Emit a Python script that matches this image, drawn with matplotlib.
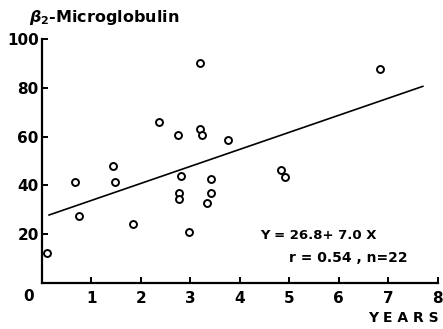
import numpy as np
import matplotlib
matplotlib.use("Agg")
import matplotlib.pyplot as plt

# years vs beta2-microglobulin
years = [0.10, 0.67, 0.76, 1.45, 1.48, 1.84, 2.38, 2.76, 2.78, 2.78, 2.81,
         2.98, 3.20, 3.20, 3.24, 3.35, 3.42, 3.43, 3.76, 4.83, 4.92, 6.83]
b2m = [12.1, 41.4, 27.6, 48.1, 41.4, 24.1, 65.9, 60.6, 37.0, 34.5, 43.7,
       21.0, 90.4, 63.0, 60.7, 32.9, 37.0, 42.6, 58.5, 46.5, 43.4, 87.9]

intercept = 26.8
slope = 7.0
fit_x = np.array([0.15, 7.7])

xticks = [1, 2, 3, 4, 5, 6, 7, 8]
yticks = [20, 40, 60, 80, 100]

plt.rcParams['font.family'] = 'DejaVu Sans'
plt.rcParams['font.weight'] = 'bold'
plt.rcParams['mathtext.fontset'] = 'dejavusans'

fig = plt.figure(figsize=(4.43, 3.29), dpi=100)
ax = fig.add_axes([0.094, 0.1404, 0.894, 0.740])

ax.plot(fit_x, intercept + slope * fit_x, color='black', lw=1.2)
ax.plot(years, b2m, 'o', mfc='white', mec='black', mew=1.4, ms=5.0, clip_on=False)

ax.set_xlim(0, 8)
ax.set_ylim(0, 100)
ax.spines['top'].set_visible(False)
ax.spines['right'].set_visible(False)
ax.spines['left'].set_linewidth(1.6)
ax.spines['bottom'].set_linewidth(1.6)

ax.set_xticks(xticks)
ax.set_yticks(yticks)
ax.set_xticklabels([str(t) for t in xticks])
ax.set_yticklabels([str(t) for t in yticks])
ax.tick_params(axis='x', direction='in', length=4, width=1.4, pad=6, labelsize=11)
ax.tick_params(axis='y', direction='in', length=4, width=1.4, pad=2, labelsize=11)

ax.text(-0.032, -0.058, '0', transform=ax.transAxes, ha='center', va='center',
        fontsize=11, fontweight='bold')

fig.text(0.065, 0.948, r'$\beta_2$-Microglobulin', fontsize=11.5, fontweight='bold',
         ha='left', va='center')
fig.text(0.99, 0.034, 'Y E A R S', fontsize=10, fontweight='bold', ha='right', va='center')

ax.text(0.553, 0.195, 'Y = 26.8+ 7.0 X', transform=ax.transAxes, fontsize=9.5,
        fontweight='bold', ha='left', va='center')
ax.text(0.625, 0.100, 'r = 0.54 , n=22', transform=ax.transAxes, fontsize=10,
        fontweight='bold', ha='left', va='center')

fig.savefig('out.png', dpi=100, facecolor='white')
